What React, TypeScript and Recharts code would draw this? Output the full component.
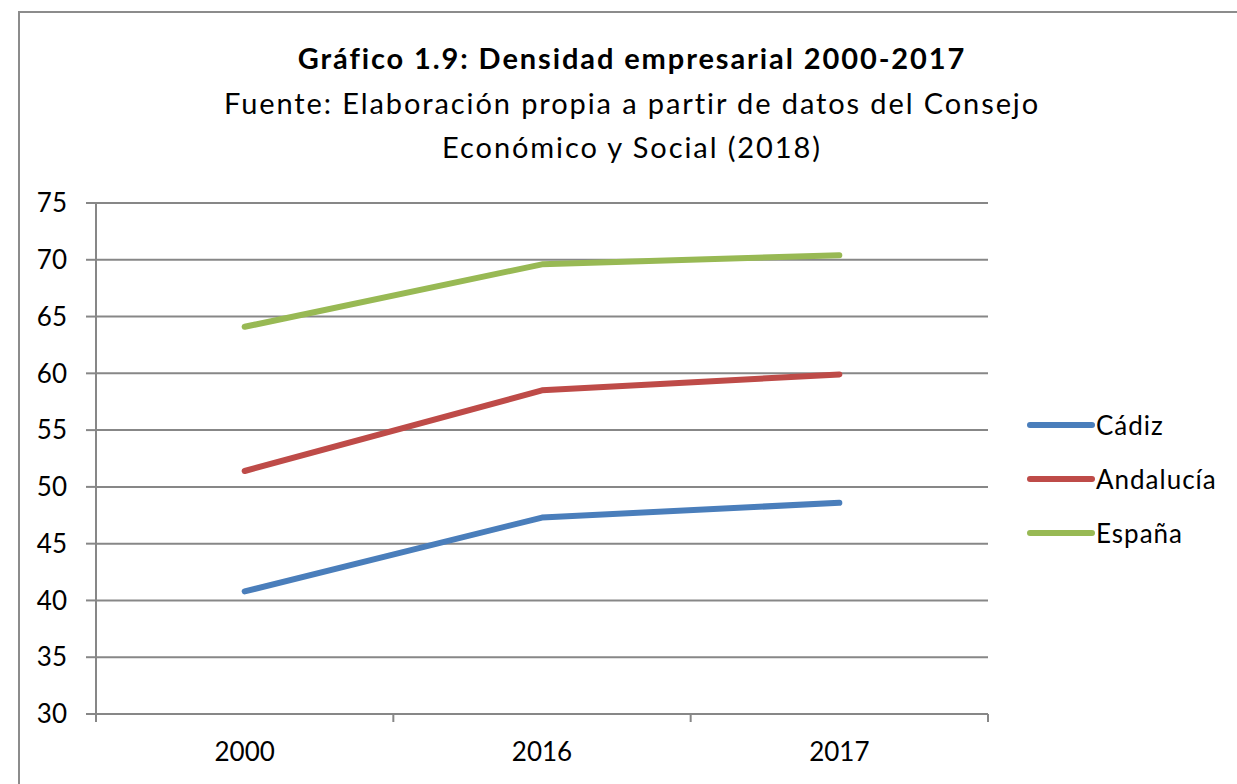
import React from 'react';
import { LineChart, Line, XAxis, YAxis, CartesianGrid } from 'recharts';

const years = ['2000', '2016', '2017'];
const cadiz = [40.8, 47.3, 48.6];
const andalucia = [51.4, 58.5, 59.9];
const espana = [64.1, 69.6, 70.4];
const yTicks = [30, 35, 40, 45, 50, 55, 60, 65, 70, 75];

const titleText = 'Gráfico 1.9: Densidad empresarial 2000-2017';
const subtitle1 = 'Fuente: Elaboración propia a partir de datos del Consejo';
const subtitle2 = 'Económico y Social (2018)';

const series = [
  { key: 'Cádiz', values: cadiz, color: '#4a7ebb' },
  { key: 'Andalucía', values: andalucia, color: '#be4b48' },
  { key: 'España', values: espana, color: '#98b954' },
];

const data = years.map((y, i) => {
  const row: any = { year: y };
  series.forEach((s) => (row[s.key] = s.values[i]));
  return row;
});

const W = 1237;
const H = 784;
const FONT = 'Lato, "Open Sans", sans-serif';
const GRID = '#878787';
const margin = { top: 203, right: 249, bottom: 0, left: 0 };
const yAxisWidth = 96;
const xAxisHeight = 70;
const plotWidth = W - margin.left - margin.right - yAxisWidth;
const bandWidth = plotWidth / years.length;

const XTick = (props: any) => {
  const { x, y, payload, index } = props;
  const left = x - bandWidth / 2;
  const right = x + bandWidth / 2;
  return (
    <g>
      <line x1={left} x2={left} y1={y} y2={y + 8} stroke={GRID} strokeWidth={2} />
      {index === years.length - 1 && (
        <line x1={right} x2={right} y1={y} y2={y + 8} stroke={GRID} strokeWidth={2} />
      )}
      <text x={x} y={y + 47} textAnchor="middle" fontFamily={FONT} fontSize={26} fill="#000">
        {payload.value}
      </text>
    </g>
  );
};

const LegendBox = () => (
  <div
    style={{
      position: 'absolute',
      left: 1027,
      top: 398,
      fontFamily: FONT,
      fontSize: 26,
      letterSpacing: 1,
      color: '#000',
    }}
  >
    {series.map((s) => (
      <div key={s.key} style={{ display: 'flex', alignItems: 'center', height: 54 }}>
        <svg width={68} height={10} style={{ display: 'block' }}>
          <line x1={3} x2={65} y1={5} y2={5} stroke={s.color} strokeWidth={6} strokeLinecap="round" />
        </svg>
        <span style={{ marginLeft: 1, lineHeight: '54px' }}>{s.key}</span>
      </div>
    ))}
  </div>
);

export default function App() {
  return (
    <div style={{ position: 'absolute', left: 0, top: 0, width: W, height: H, overflow: 'hidden', background: '#fff' }}>
      <div
        style={{
          position: 'absolute',
          left: 18,
          top: 11,
          width: 1400,
          height: 1000,
          border: '2px solid #8c8c8c',
        }}
      />
      <div
        style={{
          position: 'absolute',
          left: 0,
          width: 1264,
          top: 36,
          textAlign: 'center',
          fontFamily: FONT,
          color: '#000',
          letterSpacing: 1.9,
        }}
      >
        <div style={{ fontWeight: 700, fontSize: 29, lineHeight: '44.5px' }}>{titleText}</div>
        <div style={{ fontSize: 29, lineHeight: '44.5px' }}>{subtitle1}</div>
        <div style={{ fontSize: 29, lineHeight: '44.5px' }}>{subtitle2}</div>
      </div>
      <div style={{ position: 'absolute', left: 0, top: 0 }}>
        <LineChart width={W} height={H} data={data} margin={margin}>
          <CartesianGrid vertical={false} stroke={GRID} strokeWidth={2} />
          <XAxis
            dataKey="year"
            scale="band"
            height={xAxisHeight}
            axisLine={{ stroke: GRID, strokeWidth: 2 }}
            tickLine={false}
            tickSize={0}
            tickMargin={0}
            tick={<XTick />}
            interval={0}
          />
          <YAxis
            width={yAxisWidth}
            domain={[30, 75]}
            ticks={yTicks}
            interval={0}
            axisLine={{ stroke: GRID, strokeWidth: 2 }}
            tickLine={{ stroke: GRID, strokeWidth: 2 }}
            tickSize={10}
            tickMargin={19}
            tick={{ fontFamily: FONT, fontSize: 26, fill: '#000' }}
          />
          {series.map((s) => (
            <Line
              key={s.key}
              dataKey={s.key}
              stroke={s.color}
              strokeWidth={6}
              strokeLinecap="round"
              strokeLinejoin="round"
              dot={false}
              activeDot={false}
              isAnimationActive={false}
            />
          ))}
        </LineChart>
      </div>
      <LegendBox />
    </div>
  );
}
